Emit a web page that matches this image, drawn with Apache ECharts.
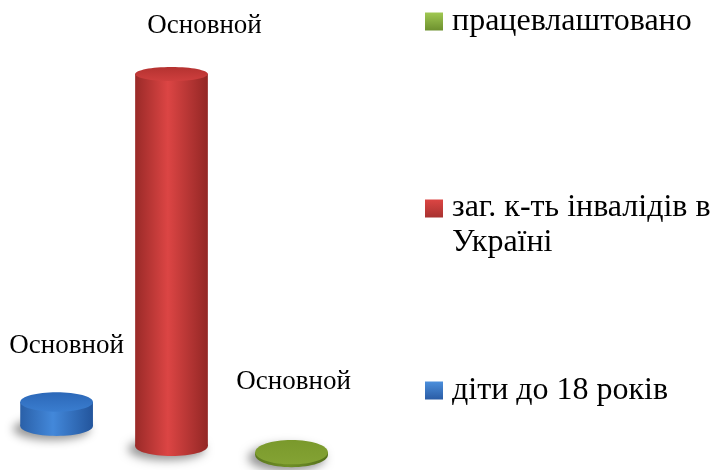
<!DOCTYPE html>
<html>
<head>
<meta charset="utf-8">
<script src="https://cdn.jsdelivr.net/npm/echarts@6/dist/echarts.min.js"></script>
<style>
  html, body { margin: 0; padding: 0; background: #fff; }
  #chart { width: 712px; height: 470px; }
</style>
</head>
<body>
<div id="chart"></div>
<script>
// data (relative heights, tallest = 100)
const categories = ['Основной'];
const seriesNames = ['діти до 18 років', 'заг. к-ть інвалідів в\nУкраїні', 'працевлаштовано'];
const childrenValues = [6.2];
const totalValues = [100];
const employedValues = [0.5];

// per-series look: slot inside the band, depth of the floor, label position
const slotShift = [-0.335, 0, 0.35];
const depthShift = [-20, 0, 9];
const tilt = [1, 1, 1.2];
const labelShift = [[10, -56], [33, -48], [2, -70]];
const palette = [
  { side: ['#2a60a8', '#4388da', '#23559c'], top: ['#2c68b8', '#3a7dcf'], icon: ['#4b8fdc', '#2a5ca5'] },
  { side: ['#9a2a28', '#dc4544', '#932725'], top: ['#b43230', '#cf3f3e'], icon: ['#dc4543', '#a83230'] },
  { side: ['#5c781e', '#6f8f27', '#56711b'], top: ['#7a992c', '#84a334'], icon: ['#a0c852', '#6d902e'] }
];

function grad(x2, y2, colors, stops) {
  return {
    type: 'linear', x: 0, y: 0, x2: x2, y2: y2,
    colorStops: colors.map((c, k) => ({ offset: stops ? stops[k] : k / (colors.length - 1), color: c }))
  };
}

function renderCylinder(params, api) {
  const i = params.seriesIndex;
  const base = api.coord([api.value(0), 0]);
  const top = api.coord([api.value(0), api.value(1)]);
  const band = api.size([1, 0])[0];
  const cx = base[0] + slotShift[i] * band;
  const by = base[1] + depthShift[i];
  const ty = top[1] + depthShift[i] - 1;
  const rx = band * 0.106;
  const ryT = (6.5 + 0.008 * ty) * tilt[i];
  const ryB = (6.5 + 0.008 * by) * tilt[i];
  const p = palette[i];
  const side = grad(1, 0, p.side, [0, 0.45, 1]);
  return {
    type: 'group',
    children: [
      {
        // soft floor shadow, drawn off to the side so only its blur shows
        type: 'ellipse',
        shape: { cx: cx - 5 - 1000, cy: by + 3, rx: rx + 2, ry: ryB + 1 },
        style: {
          fill: '#000',
          shadowBlur: 10,
          shadowOffsetX: 1000,
          shadowColor: 'rgba(0,0,0,0.42)'
        }
      },
      { type: 'ellipse', shape: { cx: cx, cy: by, rx: rx, ry: ryB }, style: { fill: side } },
      { type: 'rect', shape: { x: cx - rx, y: ty, width: rx * 2, height: by - ty }, style: { fill: side } },
      { type: 'ellipse', shape: { cx: cx, cy: ty, rx: rx, ry: ryT }, style: { fill: grad(0, 1, p.top) } },
      {
        type: 'text',
        style: {
          text: categories[api.value(0)],
          x: cx + labelShift[i][0],
          y: ty + labelShift[i][1],
          align: 'center',
          verticalAlign: 'middle',
          fontFamily: 'Liberation Serif',
          fontSize: 27,
          fill: '#000'
        }
      }
    ]
  };
}

const allValues = [childrenValues, totalValues, employedValues];

const legendText = { fontFamily: 'Liberation Serif', fontSize: 32, color: '#000', lineHeight: 35, padding: [0, 0, 0, 4] };
function legendFor(idx, top, icon, itemHeight) {
  return {
    orient: 'vertical',
    left: 425,
    top: top,
    padding: 0,
    itemWidth: 18,
    itemHeight: itemHeight,
    selectedMode: false,
    textStyle: legendText,
    data: [{ name: seriesNames[idx], icon: icon, itemStyle: { color: grad(0, 1, palette[idx].icon, itemHeight > 18 ? [0, 0.35] : [0, 1]) } }]
  };
}

const chart = echarts.init(document.getElementById('chart'));
chart.setOption({
  animation: false,
  legend: [
    legendFor(2, 4, 'rect', 18),
    legendFor(1, 190, 'path://M0,0H18V18H0Z M0,51H0.01V51.01H0Z', 51),
    legendFor(0, 373, 'rect', 18)
  ],
  grid: { left: -3, width: 346, top: 75, bottom: 24 },
  xAxis: { type: 'category', data: categories, show: false },
  yAxis: { type: 'value', min: 0, max: 100, show: false },
  series: seriesNames.map((name, i) => ({
    name: name,
    type: 'custom',
    renderItem: renderCylinder,
    encode: { x: 0, y: 1 },
    data: allValues[i].map((v, k) => [k, v]),
    itemStyle: { color: palette[i].side[1] }
  }))
});
</script>
</body>
</html>
